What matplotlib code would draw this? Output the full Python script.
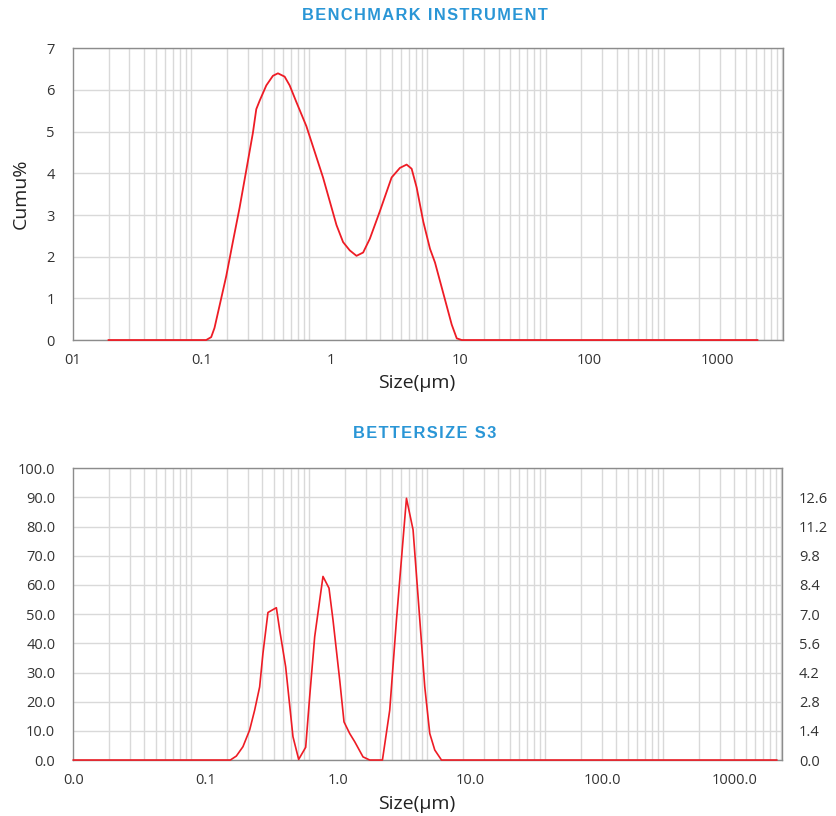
import matplotlib
matplotlib.use('Agg')
import matplotlib.pyplot as plt
from matplotlib.ticker import FixedLocator, NullFormatter

plt.rcParams['font.family'] = ['Open Sans', 'DejaVu Sans']

# benchmark instrument curve (size in um, %)
bench_size = [0.01, 0.067, 0.0739, 0.0788, 0.0869, 0.099, 0.1126, 0.1284, 0.1463,
              0.1665, 0.1779, 0.1898, 0.2163, 0.246, 0.2713, 0.3092, 0.3409, 0.3886,
              0.4723, 0.5742, 0.6532, 0.7446, 0.8487, 0.9654, 1.1005, 1.254, 1.427,
              1.626, 1.977, 2.485, 2.922, 3.331, 3.672, 4.049, 4.607, 5.25, 5.788,
              6.806, 8.018, 8.843, 9.75, 3100]
bench_pct = [0, 0, 0.07, 0.29, 0.82, 1.53, 2.35, 3.17, 4.07,
             4.97, 5.54, 5.74, 6.11, 6.34, 6.40, 6.32, 6.11, 5.71,
             5.13, 4.39, 3.90, 3.33, 2.76, 2.35, 2.15, 2.02, 2.10,
             2.43, 3.09, 3.90, 4.13, 4.21, 4.11, 3.66, 2.84, 2.19, 1.86,
             1.12, 0.37, 0.04, 0, 0]

# bettersize s3 curve (size in um, q%)
bs3_size = [0.005, 0.1071, 0.1204, 0.137, 0.1561, 0.1721, 0.1898, 0.2024, 0.2232,
            0.263, 0.2805, 0.3152, 0.3636, 0.4064, 0.466, 0.504, 0.5557, 0.6532,
            0.7345, 0.7943, 0.9053, 0.9845, 1.1005, 1.213, 1.427, 1.626, 2.084,
            2.403, 2.74, 3.08, 3.331, 3.789, 4.178, 4.762, 5.25, 5.788, 6.596, 4580]
bs3_pct = [0, 0, 0.19, 0.64, 1.44, 2.39, 3.51, 5.12, 7.08,
           7.31, 6.24, 4.48, 1.12, 0.03, 0.61, 3.05, 5.92, 8.81,
           8.25, 6.72, 3.84, 1.83, 1.27, 0.88, 0.15, 0, 0,
           2.39, 6.72, 10.23, 12.56, 11.05, 7.84, 3.51, 1.27, 0.48, 0, 0]

top_xlabels = ['01', '0.1', '1', '10', '100', '1000']
bot_xlabels = ['0.0', '0.1', '1.0', '10.0', '100.0', '1000.0']
top_yticks = [0, 1, 2, 3, 4, 5, 6, 7]
left_yticks = [0, 10, 20, 30, 40, 50, 60, 70, 80, 90, 100]
right_yticks = [0.0, 1.4, 2.8, 4.2, 5.6, 7.0, 8.4, 9.8, 11.2, 12.6]

decades = [0.01, 0.1, 1, 10, 100, 1000]
grid_steps = [1, 1.5, 2, 2.5, 3, 3.5, 4, 4.5, 5]

XMIN, XMAX = 0.005, 5100
RED = '#ee1c25'
GRID = '#d9d9d9'
BORDER = '#8c8c8c'
TXT = '#333333'
BLUE = '#2a96d6'


def setup_x(ax, labels, step):
    ax.set_xscale('log')
    ax.set_xlim(XMIN, XMAX)
    # labels sit evenly spaced along the axis
    pos = [XMIN * (XMAX / XMIN) ** (i * step) for i in range(len(labels))]
    ax.xaxis.set_major_locator(FixedLocator(pos))
    ax.set_xticklabels(labels)
    gl = [d * s for d in decades for s in grid_steps]
    ax.xaxis.set_minor_locator(FixedLocator(gl))
    ax.xaxis.set_minor_formatter(NullFormatter())
    ax.grid(False, axis='x', which='major')
    ax.grid(True, axis='x', which='minor', color=GRID, lw=1.0)
    ax.grid(True, axis='y', which='major', color=GRID, lw=1.0)
    ax.tick_params(axis='both', which='both', length=0, labelsize=10.5,
                   labelcolor=TXT)
    ax.tick_params(axis='x', pad=9)
    ax.tick_params(axis='y', pad=13)
    ax.set_axisbelow(True)
    for s in ax.spines.values():
        s.set_color(BORDER)
        s.set_linewidth(1.0)


def spaced(s):
    return '\u200a'.join(s)


fig = plt.figure(figsize=(8.36, 8.16), dpi=100)

ax1 = fig.add_axes([0.0873, 0.5833, 0.8493, 0.3575])
setup_x(ax1, top_xlabels, 0.1816)
ax1.set_ylim(0, 7)
ax1.set_yticks(top_yticks)
ax1.plot(bench_size, bench_pct, color=RED, lw=1.3, clip_on=False, zorder=3)
ax1.set_ylabel('Cumu%', fontsize=14, color='#222222', labelpad=12)
fig.text(0.499, 1 - 383 / 816, 'Size(\u00b5m)', fontsize=14, color='#222222',
         ha='center', va='center')

ax2 = fig.add_axes([0.0877, 0.0686, 0.848, 0.3575])
setup_x(ax2, bot_xlabels, 0.1866)
ax2.set_ylim(0, 100)
ax2.set_yticks(left_yticks)
ax2.set_yticklabels(['%.1f' % v for v in left_yticks])
ax2r = ax2.twinx()
ax2r.set_ylim(0, 14)
ax2r.set_yticks(right_yticks)
ax2r.set_yticklabels(['%.1f' % v for v in right_yticks])
ax2r.tick_params(axis='y', length=0, labelsize=10.5, labelcolor=TXT, pad=12)
for s in ax2r.spines.values():
    s.set_visible(False)
ax2r.plot(bs3_size, bs3_pct, color=RED, lw=1.2, clip_on=False, zorder=3)
fig.text(0.499, 1 - 804 / 816, 'Size(\u00b5m)', fontsize=14, color='#222222',
         ha='center', va='center')

fig.text(0.508, 1 - 16 / 816, spaced('BENCHMARK INSTRUMENT'), fontsize=11.8,
         fontweight='bold', color=BLUE, ha='center', va='center',
         family=['Liberation Sans', 'DejaVu Sans'])
fig.text(0.508, 1 - 433 / 816, spaced('BETTERSIZE S3'), fontsize=11.8,
         fontweight='bold', color=BLUE, ha='center', va='center',
         family=['Liberation Sans', 'DejaVu Sans'])

plt.savefig('out.png', dpi=100)
